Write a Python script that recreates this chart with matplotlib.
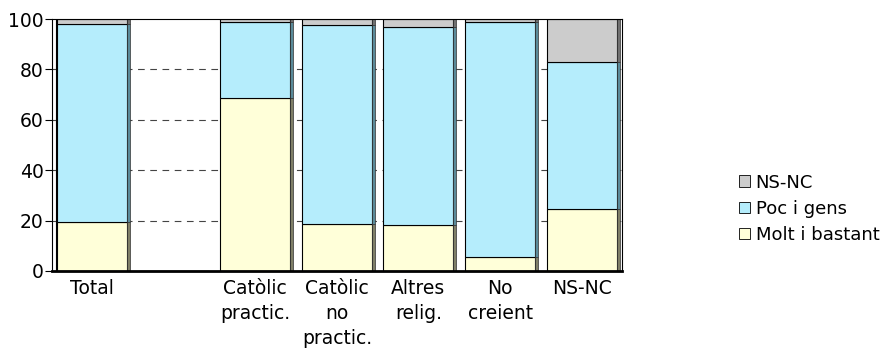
import numpy as np
import matplotlib.pyplot as plt
from matplotlib.patches import Patch

categories = ["Total", "", "Catòlic\npractic.", "Catòlic\nno\npractic.",
              "Altres\nrelig.", "No\ncreient", "NS-NC"]
molt = [19.5, 0, 68.7, 18.8, 18.3, 5.6, 24.7]
poc = [78.5, 0, 30.0, 79.0, 78.7, 93.4, 58.2]
nsnc = [2.0, 0, 1.3, 2.2, 3.0, 1.0, 17.1]

labels = ["Molt i bastant", "Poc i gens", "NS-NC"]
colors = ["#ffffd9", "#b5edfc", "#cccccc"]
side_colors = ["#7f7f68", "#5a8a99", "#707070"]

fig = plt.figure(figsize=(8.93, 3.49), dpi=100)
ax = fig.add_axes([0.0582, 0.2235, 0.638, 0.722])

x = np.arange(len(categories))
w = 0.857
depth = 0.037

for yv in [20, 40, 60, 80]:
    ax.axhline(yv, color="#444444", lw=0.8, ls=(0, (6, 5)), zorder=0)

bottom = np.zeros(len(categories))
for vals, c, sc in zip([molt, poc, nsnc], colors, side_colors):
    vals = np.array(vals)
    ax.bar(x, vals, w, bottom=bottom, color=c, edgecolor="black",
           linewidth=0.8, zorder=2)
    ax.bar(x + w / 2 + depth / 2, vals, depth, bottom=bottom, color=sc,
           edgecolor="#333333", linewidth=0.5, zorder=2)
    bottom += vals

ax.set_xlim(-0.49, len(categories) - 0.51)
ax.set_ylim(0, 100)
ax.set_yticks([0, 20, 40, 60, 80, 100])
ax.tick_params(axis="y", labelsize=13.5, length=5, width=0.8, pad=1)
ax.set_xticks(x)
ax.set_xticklabels(categories, fontsize=13.5, linespacing=1.38)
ax.tick_params(axis="x", length=0, pad=6)

ax.spines["bottom"].set_linewidth(2)
ax.spines["top"].set_linewidth(0.8)
ax.spines["left"].set_linewidth(0.8)
ax.spines["right"].set_linewidth(0.8)
ax.axvline(-0.445, color="black", lw=0.8, zorder=3)

handles = [Patch(facecolor=c, edgecolor="black", linewidth=0.6, label=l)
           for c, l in zip(colors, labels)][::-1]
fig.legend(handles=handles, loc="center left", bbox_to_anchor=(0.828, 0.402),
           frameon=False, fontsize=13, handlelength=0.6, handleheight=0.6,
           handletextpad=0.3, labelspacing=0.45, borderaxespad=0, borderpad=0)

fig.savefig("out.png", dpi=100)
